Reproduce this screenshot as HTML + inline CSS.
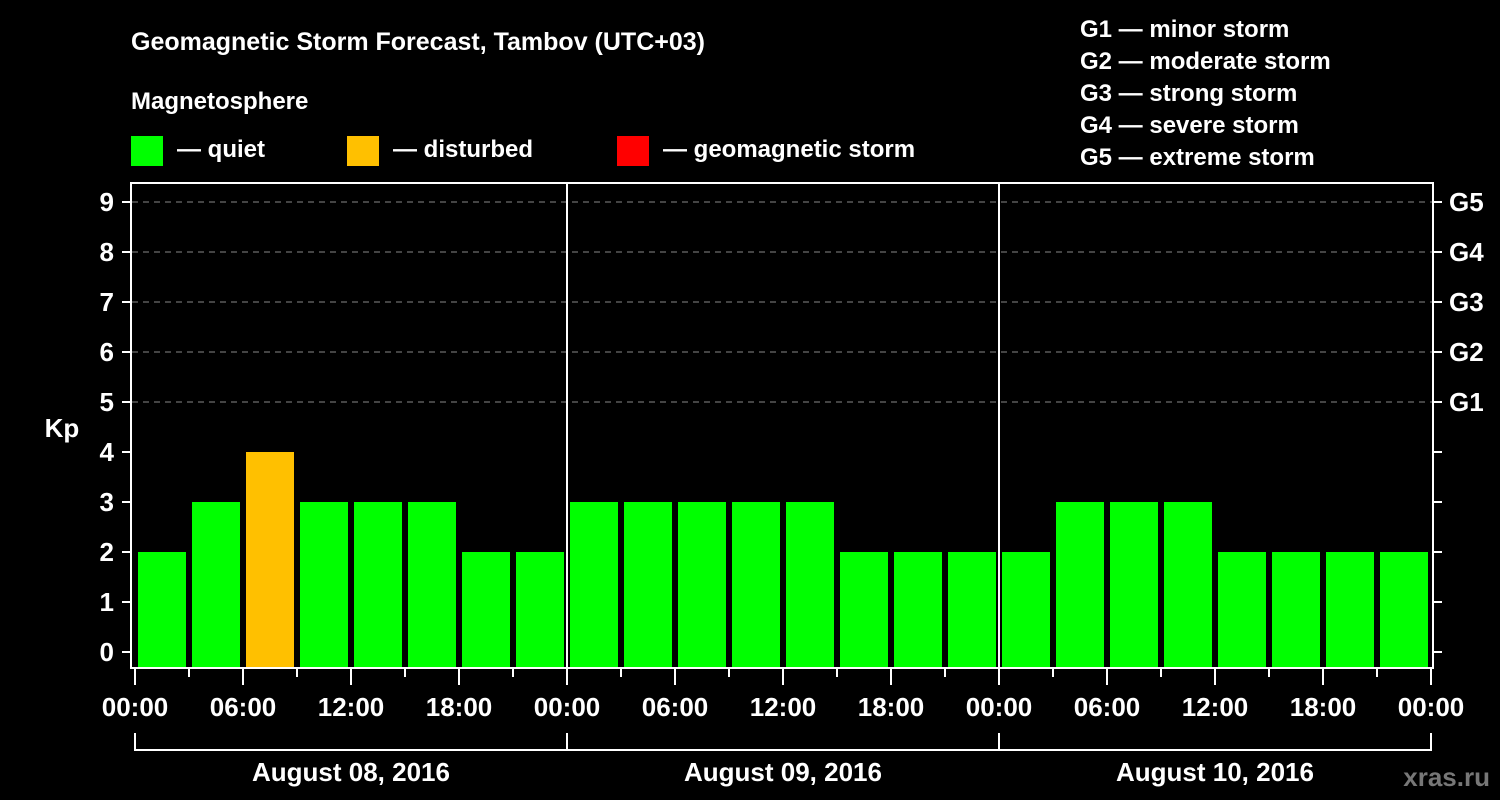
<!DOCTYPE html>
<html><head><meta charset="utf-8"><style>
html,body{margin:0;padding:0;background:#000;}
svg{display:block;font-family:"Liberation Sans",sans-serif;font-weight:bold;}
</style></head><body>
<svg width="1500" height="800" viewBox="0 0 1500 800">
<rect x="0" y="0" width="1500" height="800" fill="#000"/>
<text x="131" y="50" fill="#fff" font-size="25">Geomagnetic Storm Forecast, Tambov (UTC+03)</text>
<text x="131" y="109" fill="#fff" font-size="24">Magnetosphere</text>
<g><rect x="131" y="136" width="32" height="30" fill="#00ff00"/><text x="177" y="157" fill="#fff" font-size="24">— quiet</text></g>
<g><rect x="347" y="136" width="32" height="30" fill="#ffc000"/><text x="393" y="157" fill="#fff" font-size="24">— disturbed</text></g>
<g><rect x="617" y="136" width="32" height="30" fill="#ff0000"/><text x="663" y="157" fill="#fff" font-size="24">— geomagnetic storm</text></g>
<g fill="#fff" font-size="24">
<text x="1080" y="37">G1 — minor storm</text>
<text x="1080" y="69">G2 — moderate storm</text>
<text x="1080" y="101">G3 — strong storm</text>
<text x="1080" y="133">G4 — severe storm</text>
<text x="1080" y="165">G5 — extreme storm</text>
</g>
<text x="62" y="437" fill="#fff" font-size="26" text-anchor="middle">Kp</text>
<text x="1490" y="786" fill="#777" font-size="26" text-anchor="end">xras.ru</text>
<g id="plot"></g>
</svg>
<script>
const kpValues=[2,3,4,3,3,3,2,2, 3,3,3,3,3,2,2,2, 2,3,3,3,2,2,2,2];
const dayLabels=["August 08, 2016","August 09, 2016","August 10, 2016"];
const yTicks=[0,1,2,3,4,5,6,7,8,9];
const gLabels=["G1","G2","G3","G4","G5"];
const timeLabels=["00:00","06:00","12:00","18:00"];
const NS="http://www.w3.org/2000/svg";
const g=document.getElementById('plot');
const x0=135,slot=54,y0=652,unit=50;
const X=i=>x0+i*slot, Y=v=>y0-v*unit;
function mk(t,a,p){const e=document.createElementNS(NS,t);for(const k in a)e.setAttribute(k,a[k]);(p||g).appendChild(e);return e;}
function color(v){return v>=5?"#ff0000":(v>=4?"#ffc000":"#00ff00");}
// gridlines
for(let v=5;v<=9;v++){const l=mk('line',{x1:132,x2:1432,y1:Y(v),y2:Y(v),stroke:"#888","stroke-width":1,"stroke-dasharray":"6,5"});

}
// bars
kpValues.forEach((v,i)=>{const r=mk('rect',{x:X(i)+3,y:Y(v),width:slot-6,height:667-Y(v),fill:color(v)});

});
// day separators
for(let d=1;d<dayLabels.length;d++){const l=mk('line',{x1:X(d*8),x2:X(d*8),y1:183,y2:668,stroke:"#fff","stroke-width":2});

}
// frame
const fr=mk('rect',{x:131,y:183,width:1302,height:485,fill:"none",stroke:"#fff","stroke-width":2});


// y ticks
yTicks.forEach(v=>{mk('line',{x1:122,x2:131,y1:Y(v),y2:Y(v),stroke:"#fff","stroke-width":2});
mk('line',{x1:1433,x2:1442,y1:Y(v),y2:Y(v),stroke:"#fff","stroke-width":2});
const t=mk('text',{x:114,y:Y(v)+9,fill:"#fff","font-size":26,"text-anchor":"end"});t.textContent=v;

});
gLabels.forEach((s,i)=>{const t=mk('text',{x:1449,y:Y(5+i)+9,fill:"#fff","font-size":26});t.textContent=s;

});
// x ticks
for(let i=0;i<=kpValues.length;i++){const major=i%2===0;
mk('line',{x1:X(i),x2:X(i),y1:668,y2:major?685:677,stroke:"#fff","stroke-width":2});
if(major){const t=mk('text',{x:X(i),y:716,fill:"#fff","font-size":26,"text-anchor":"middle"});t.textContent=timeLabels[(i/2)%4];

}}
// day brackets
mk('line',{x1:X(0),x2:X(kpValues.length),y1:750,y2:750,stroke:"#fff","stroke-width":2});
for(let d=0;d<=dayLabels.length;d++)mk('line',{x1:X(d*8),x2:X(d*8),y1:733,y2:751,stroke:"#fff","stroke-width":2});
dayLabels.forEach((s,d)=>{const t=mk('text',{x:X(d*8+4),y:781,fill:"#fff","font-size":26,"text-anchor":"middle"});t.textContent=s;

});
</script>
</body></html>
